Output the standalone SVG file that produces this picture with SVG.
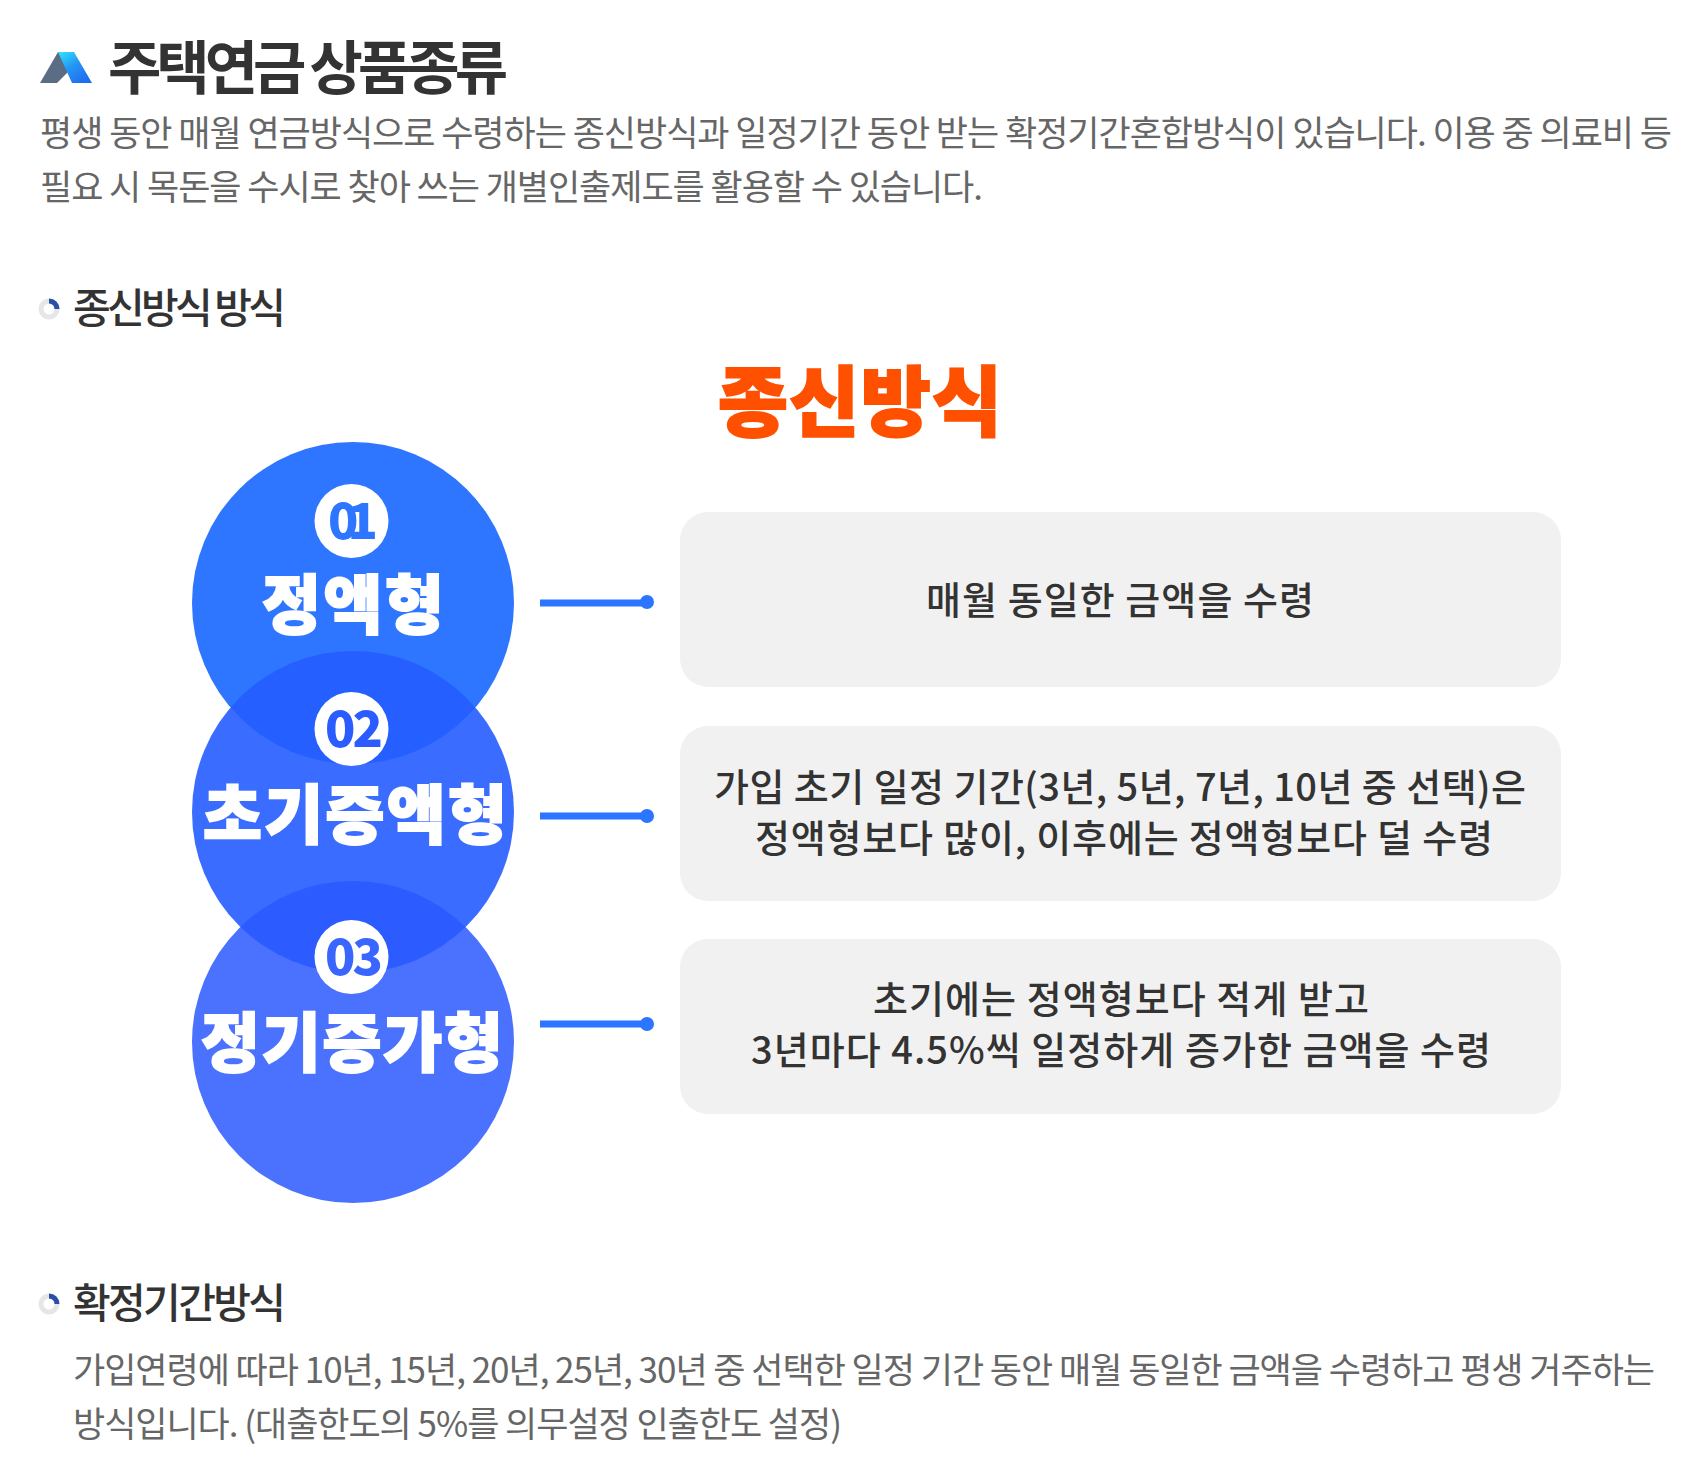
<svg xmlns="http://www.w3.org/2000/svg" width="1706" height="1467" viewBox="0 0 1706 1467">
<style>
text{font-family:"Noto Sans CJK KR","Noto Sans",sans-serif}
.h1{font-size:58px;font-weight:700;fill:#333}
.h2{font-size:41px;font-weight:500;fill:#333}
.p{font-size:35px;font-weight:400;fill:#666}
.c{font-size:38px;font-weight:500;fill:#333;text-anchor:middle}
.big{font-size:64px;font-weight:900;fill:#fff;text-anchor:middle;stroke:#fff;stroke-width:2px}
.num{font-weight:900;font-size:50px;text-anchor:middle}
.card{fill:#f1f1f1}
.ln{stroke:#2b75ff;stroke-width:7;fill:none}
.dot{fill:#2b75ff}
</style>
<defs>
<linearGradient id="gA" x1="0" y1="0" x2=".7" y2="1"><stop offset="0" stop-color="#2fe6fb"/><stop offset=".5" stop-color="#2596f5"/><stop offset="1" stop-color="#1f6df0"/></linearGradient>
</defs>
<rect width="1706" height="1467" fill="#fff"/>
<g id="title">
<path d="M40 83L58 52H66L70 70L57 83Z" fill="#5b6c85"/>
<path d="M58 52H74L92 83H72Z" fill="url(#gA)"/>
<text class="h1" x="108" y="89" textLength="400" lengthAdjust="spacing">주택연금 상품종류</text>
<text class="p" x="40" y="146" textLength="1632" lengthAdjust="spacing">평생 동안 매월 연금방식으로 수령하는 종신방식과 일정기간 동안 받는 확정기간혼합방식이 있습니다. 이용 중 의료비 등</text>
<text class="p" x="40" y="200" textLength="943" lengthAdjust="spacing">필요 시 목돈을 수시로 찾아 쓰는 개별인출제도를 활용할 수 있습니다.</text>
</g>
<g id="section1">
<circle cx="49" cy="309" r="8" fill="none" stroke="#e6e6e8" stroke-width="5"/>
<path d="M49 301A8 8 0 0 1 57 309" fill="none" stroke="#2a4fa8" stroke-width="5"/>
<text class="h2" x="73" y="323" textLength="213" lengthAdjust="spacing">종신방식 방식</text>
</g>
<text x="860" y="430" font-size="76" font-weight="900" fill="#ff5000" stroke="#ff5000" stroke-width="2" text-anchor="middle" textLength="284" lengthAdjust="spacing">종신방식</text>
<g id="circle1">
<circle cx="353" cy="603" r="161" fill="#2e75ff"/>
</g>
<g id="circle2">
<circle cx="353" cy="812" r="161" fill="#255dff" fill-opacity=".9"/>
</g>
<g id="circle3">
<circle cx="353" cy="1042" r="161" fill="#2a59ff" fill-opacity=".85"/>
</g>
<g id="labels">
<circle cx="351.500" cy="521" r="37" fill="#fff"/>
<text class="num" x="353" y="539" fill="#2e75ff" textLength="50" lengthAdjust="spacing">01</text>
<text class="big" x="353" y="628" textLength="182" lengthAdjust="spacing">정액형</text>
<circle cx="351.500" cy="729" r="37" fill="#fff"/>
<text class="num" x="354" y="747" fill="#2b5cff" textLength="58" lengthAdjust="spacing">02</text>
<text class="big" x="355" y="838" textLength="304" lengthAdjust="spacing">초기증액형</text>
<circle cx="351.500" cy="957" r="37" fill="#fff"/>
<text class="num" x="354" y="975" fill="#3a66ff" textLength="58" lengthAdjust="spacing">03</text>
<text class="big" x="352" y="1066" textLength="302" lengthAdjust="spacing">정기증가형</text>
</g>
<g id="connectors">
<path class="ln" d="M540 603H647"/><circle class="dot" cx="647" cy="602" r="7"/>
<path class="ln" d="M540 816H647"/><circle class="dot" cx="647" cy="816" r="7"/>
<path class="ln" d="M540 1024H647"/><circle class="dot" cx="647" cy="1024" r="7"/>
</g>
<g id="card1">
<rect class="card" x="680" y="512" width="881" height="175" rx="28"/>
<text class="c" x="1120" y="614" textLength="388" lengthAdjust="spacing">매월 동일한 금액을 수령</text>
</g>
<g id="card2">
<rect class="card" x="680" y="726" width="881" height="175" rx="28"/>
<text class="c" x="1120" y="801" textLength="812" lengthAdjust="spacing">가입 초기 일정 기간(3년, 5년, 7년, 10년 중 선택)은</text>
<text class="c" x="1124" y="852" textLength="738" lengthAdjust="spacing">정액형보다 많이, 이후에는 정액형보다 덜 수령</text>
</g>
<g id="card3">
<rect class="card" x="680" y="939" width="881" height="175" rx="28"/>
<text class="c" x="1121" y="1013" textLength="496" lengthAdjust="spacing">초기에는 정액형보다 적게 받고</text>
<text class="c" x="1121" y="1064" textLength="740" lengthAdjust="spacing">3년마다 4.5%씩 일정하게 증가한 금액을 수령</text>
</g>
<g id="section2">
<circle cx="49" cy="1304" r="8" fill="none" stroke="#e6e6e8" stroke-width="5"/>
<path d="M49 1296A8 8 0 0 1 57 1304" fill="none" stroke="#2a4fa8" stroke-width="5"/>
<text class="h2" x="73" y="1318" textLength="213" lengthAdjust="spacing">확정기간방식</text>
<text class="p" x="73" y="1383" textLength="1582" lengthAdjust="spacing">가입연령에 따라 10년, 15년, 20년, 25년, 30년 중 선택한 일정 기간 동안 매월 동일한 금액을 수령하고 평생 거주하는</text>
<text class="p" x="73" y="1437" textLength="769" lengthAdjust="spacing">방식입니다. (대출한도의 5%를 의무설정 인출한도 설정)</text>
</g>
</svg>
